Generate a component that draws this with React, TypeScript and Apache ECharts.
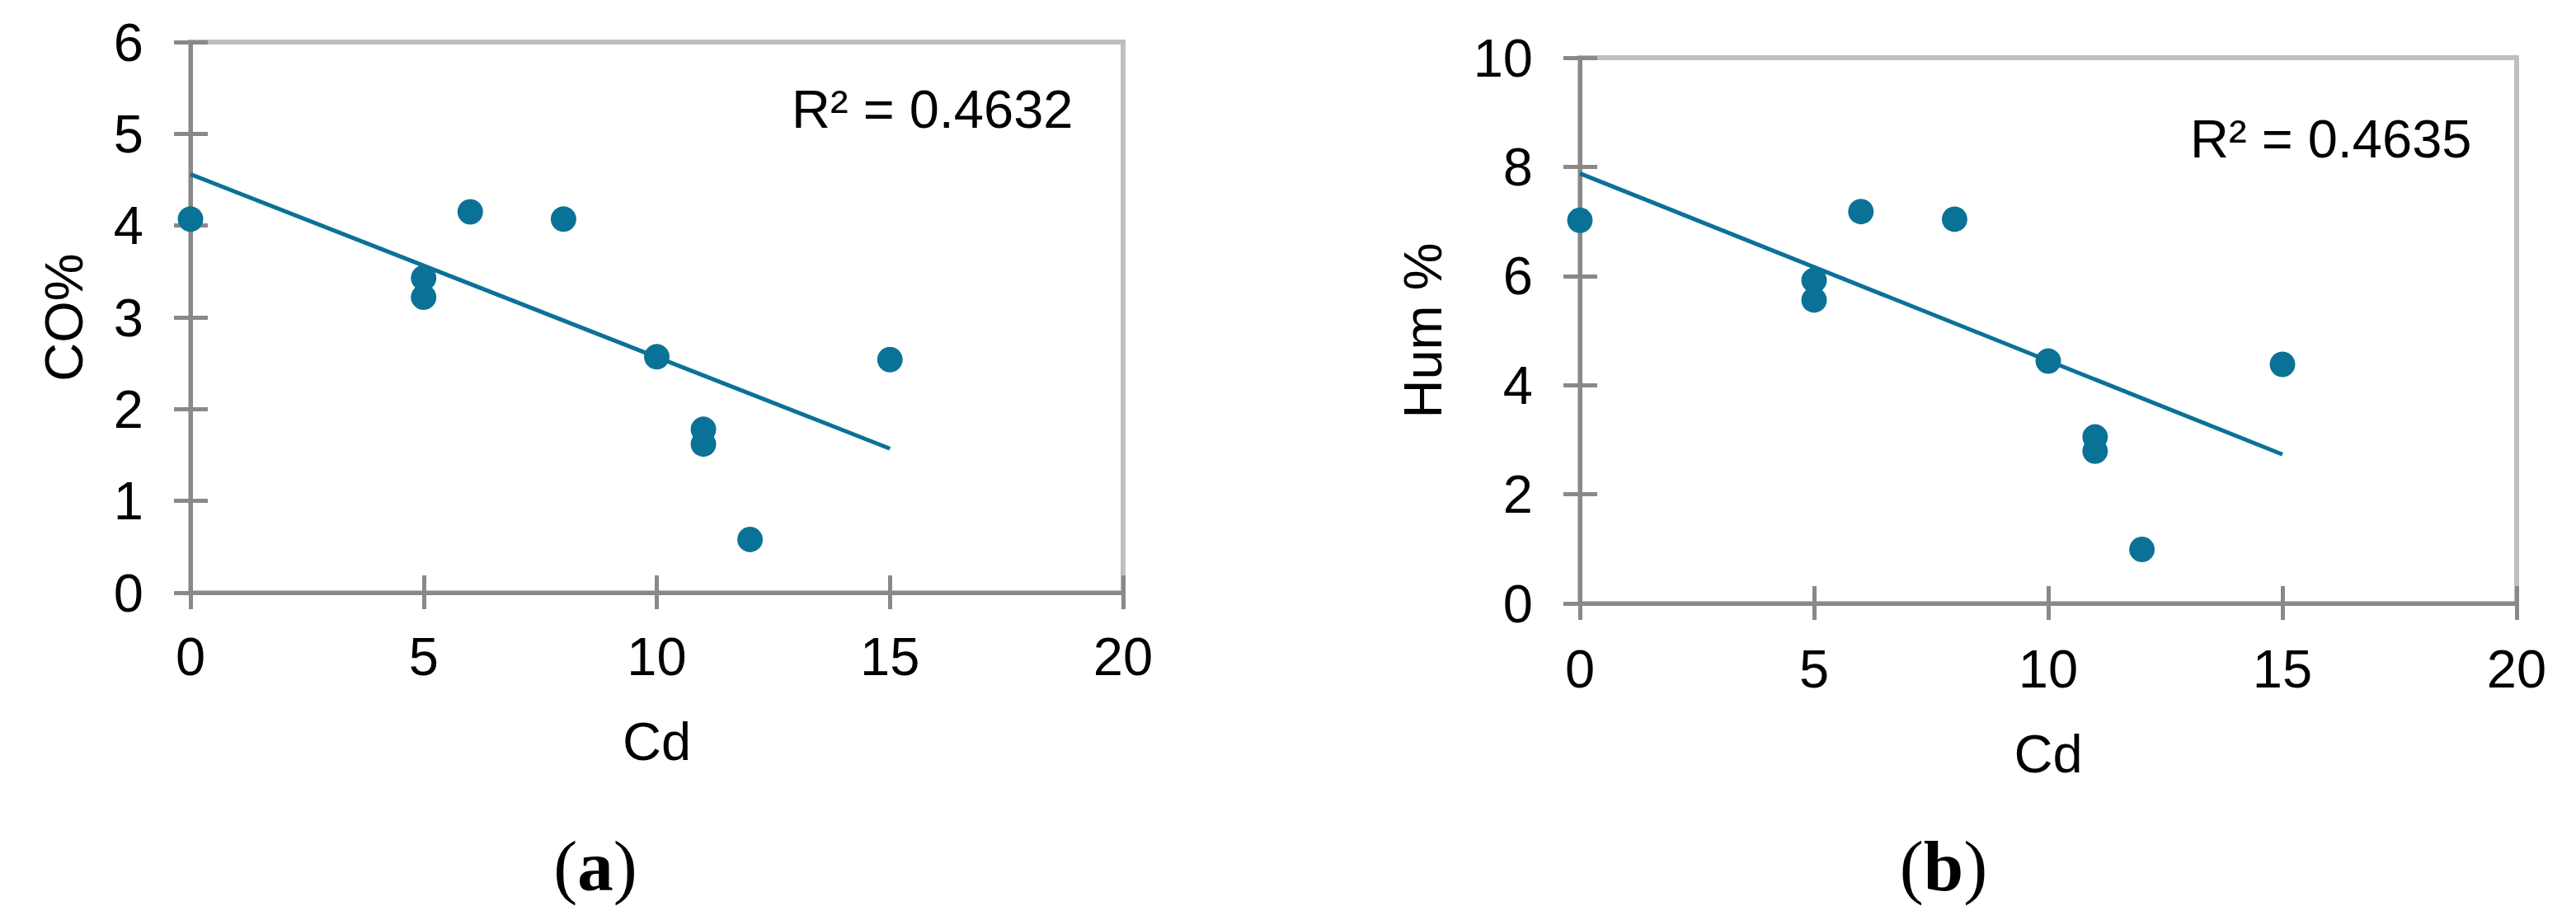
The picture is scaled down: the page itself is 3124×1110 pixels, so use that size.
import React, { useEffect, useRef } from "react";
import * as echarts from "echarts";

// Panel (a): Cd vs CO%
const cdA = [0, 5, 5, 6, 8, 10, 11, 11, 12, 15];
const coPct = [4.07, 3.43, 3.22, 4.15, 4.07, 2.57, 1.78, 1.62, 0.58, 2.54];
// Panel (b): Cd vs Hum %
const cdB = [0, 5, 5, 6, 8, 10, 11, 11, 12, 15];
const humPct = [7.02, 5.92, 5.56, 7.18, 7.04, 4.44, 3.05, 2.79, 0.99, 4.38];
// Linear trend lines (end points)
const trendX = [0, 15];
const coTrend = [4.56, 1.57];
const humTrend = [7.88, 2.73];
// Axis ranges
const xRange = { min: 0, max: 20, interval: 5 };
const coRange = { min: 0, max: 6, interval: 1 };
const humRange = { min: 0, max: 10, interval: 2 };
const r2Labels = ["R² = 0.4632", "R² = 0.4635"];
const captions = ["a", "b"];

const BLUE = "#0b7297";
const AXIS = "#898989";
const BORDER = "#bfbfbf";
const FONT = "'Liberation Sans', Arial, sans-serif";
const FS = 65;

function xAxes(gridIndex: number, labelMargin: number, nameGap: number) {
  const base = {
    type: "value",
    gridIndex,
    position: "bottom",
    min: xRange.min,
    max: xRange.max,
    interval: xRange.interval,
    splitLine: { show: false },
  };
  return [
    {
      ...base,
      name: "Cd",
      nameLocation: "middle",
      nameGap,
      nameTextStyle: { fontFamily: FONT, fontSize: FS, color: "#000" },
      axisLine: { show: true, onZero: false, lineStyle: { color: AXIS, width: 5 } },
      axisTick: { show: true, inside: false, length: 20, lineStyle: { color: AXIS, width: 5 } },
      axisLabel: { show: true, margin: labelMargin, fontFamily: FONT, fontSize: FS, color: "#000" },
    },
    {
      ...base,
      axisLine: { show: false },
      axisTick: { show: true, inside: true, length: 21, lineStyle: { color: AXIS, width: 5 } },
      axisLabel: { show: false },
    },
  ];
}

function yAxes(gridIndex: number, range: any, name: string, labelMargin: number, nameGap: number) {
  const base = {
    type: "value",
    gridIndex,
    position: "left",
    min: range.min,
    max: range.max,
    interval: range.interval,
    splitLine: { show: false },
  };
  return [
    {
      ...base,
      name,
      nameLocation: "middle",
      nameGap,
      nameRotate: 90,
      nameTextStyle: { fontFamily: FONT, fontSize: FS, color: "#000" },
      axisLine: { show: true, onZero: false, lineStyle: { color: AXIS, width: 5 } },
      axisTick: { show: true, inside: false, length: 20, lineStyle: { color: AXIS, width: 5 } },
      axisLabel: { show: true, margin: labelMargin, fontFamily: FONT, fontSize: FS, color: "#000" },
    },
    {
      ...base,
      axisLine: { show: false },
      axisTick: { show: true, inside: true, length: 21, lineStyle: { color: AXIS, width: 5 } },
      axisLabel: { show: false },
    },
  ];
}

function pairs(xs: number[], ys: number[]) {
  return xs.map((x, i) => [x, ys[i]]);
}

const captionRich = {
  p: { fontFamily: "'Liberation Serif', 'Times New Roman', serif", fontSize: 87, fill: "#000" },
  b: { fontFamily: "'Liberation Serif', 'Times New Roman', serif", fontSize: 87, fontWeight: "bold", fill: "#000" },
};

export default function App() {
  const ref = useRef<HTMLDivElement>(null);
  useEffect(() => {
    document.body.style.margin = "0";
    const chart = echarts.init(ref.current!, null, { renderer: "svg" });
    const option: any = {
      animation: false,
      backgroundColor: "#fff",
      grid: [
        { left: 231, top: 51, width: 1131, height: 668, show: true, borderColor: BORDER, borderWidth: 6, containLabel: false },
        { left: 1916, top: 70, width: 1136, height: 662, show: true, borderColor: BORDER, borderWidth: 6, containLabel: false },
      ],
      xAxis: [...xAxes(0, 45, 148), ...xAxes(1, 47, 150)],
      yAxis: [...yAxes(0, coRange, "CO%", 57, 121), ...yAxes(1, humRange, "Hum %", 57, 158)],
      series: [
        {
          type: "line",
          xAxisIndex: 0,
          yAxisIndex: 0,
          data: pairs(trendX, coTrend),
          symbol: "none",
          lineStyle: { color: BLUE, width: 5 },
          z: 3,
        },
        {
          type: "scatter",
          xAxisIndex: 0,
          yAxisIndex: 0,
          data: pairs(cdA, coPct),
          symbolSize: 31,
          itemStyle: { color: BLUE, opacity: 1 },
          z: 4,
        },
        {
          type: "line",
          xAxisIndex: 2,
          yAxisIndex: 2,
          data: pairs(trendX, humTrend),
          symbol: "none",
          lineStyle: { color: BLUE, width: 5 },
          z: 3,
        },
        {
          type: "scatter",
          xAxisIndex: 2,
          yAxisIndex: 2,
          data: pairs(cdB, humPct),
          symbolSize: 31,
          itemStyle: { color: BLUE, opacity: 1 },
          z: 4,
        },
      ],
      graphic: [
        {
          type: "text",
          left: 960,
          top: 100,
          style: { text: r2Labels[0], fontFamily: FONT, fontSize: FS, fill: "#000" },
        },
        {
          type: "text",
          left: 2656,
          top: 136,
          style: { text: r2Labels[1], fontFamily: FONT, fontSize: FS, fill: "#000" },
        },
        {
          type: "text",
          x: 722,
          y: 1050,
          style: {
            text: "{p|(}{b|" + captions[0] + "}{p|)}",
            align: "center",
            verticalAlign: "middle",
            rich: captionRich,
          },
        },
        {
          type: "text",
          x: 2357,
          y: 1050,
          style: {
            text: "{p|(}{b|" + captions[1] + "}{p|)}",
            align: "center",
            verticalAlign: "middle",
            rich: captionRich,
          },
        },
      ],
    };
    chart.setOption(option);
    return () => chart.dispose();
  }, []);
  return (
    <div
      ref={ref}
      style={{ position: "absolute", left: 0, top: 0, width: 3124, height: 1110, background: "#fff" }}
    />
  );
}
